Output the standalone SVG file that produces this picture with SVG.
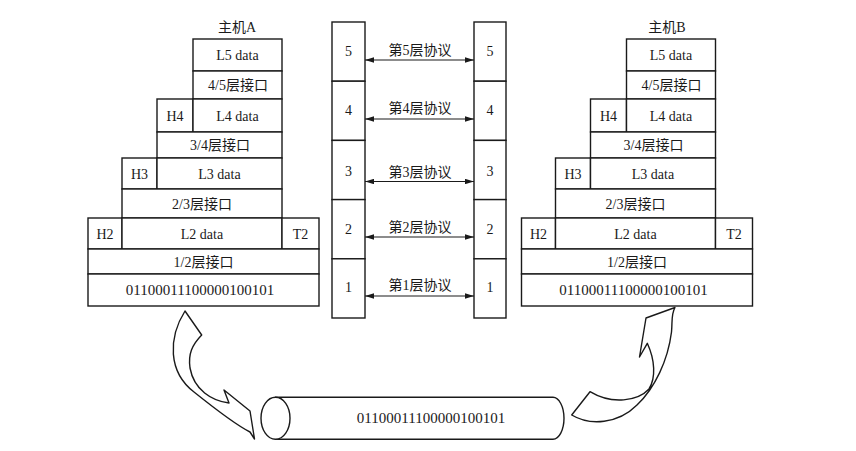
<svg xmlns="http://www.w3.org/2000/svg" width="856" height="451" viewBox="0 0 856 451">
<defs>
<style>
.box{fill:#fff;stroke:#1a1a1a;stroke-width:1.4}
.t{font-family:"Liberation Serif","Noto Sans CJK SC",serif;font-size:14px;text-anchor:middle;fill:#1a1a1a}
.bits{font-size:15px}
.ln{fill:none;stroke:#1a1a1a;stroke-width:1.2}
.blk{fill:#fff;stroke:#1a1a1a;stroke-width:1.4;stroke-linejoin:round}
</style>
<marker id="ah" viewBox="0 0 10 6" refX="10" refY="3" markerWidth="9" markerHeight="5.4" markerUnits="userSpaceOnUse" orient="auto-start-reverse">
<path d="M0,0 L10,3 L0,6 Z" fill="#1a1a1a"/>
</marker>
</defs>
<rect width="856" height="451" fill="#fff"/>

<g id="hostA">
<text class="t" x="237" y="32">主机A</text>
<g id="A-L5"><rect class="box" x="193" y="39" width="89" height="32"/><text class="t" x="237.5" y="60">L5 data</text></g>
<g id="A-if45"><rect class="box" x="193" y="71" width="89" height="28"/><text class="t" x="238" y="90">4/5层接口</text></g>
<g id="A-H4"><rect class="box" x="157" y="99" width="36" height="33"/><text class="t" x="175" y="120.5">H4</text></g>
<g id="A-L4"><rect class="box" x="193" y="99" width="89" height="33"/><text class="t" x="237.5" y="120.5">L4 data</text></g>
<g id="A-if34"><rect class="box" x="157" y="132" width="125" height="26"/><text class="t" x="220" y="150">3/4层接口</text></g>
<g id="A-H3"><rect class="box" x="122" y="158" width="35" height="31"/><text class="t" x="139.5" y="178.5">H3</text></g>
<g id="A-L3"><rect class="box" x="157" y="158" width="125" height="31"/><text class="t" x="219.5" y="178.5">L3 data</text></g>
<g id="A-if23"><rect class="box" x="122" y="189" width="160" height="29"/><text class="t" x="202" y="208.5">2/3层接口</text></g>
<g id="A-H2"><rect class="box" x="88" y="218" width="34" height="31"/><text class="t" x="105" y="238.5">H2</text></g>
<g id="A-L2"><rect class="box" x="122" y="218" width="160" height="31"/><text class="t" x="202" y="238.5">L2 data</text></g>
<g id="A-T2"><rect class="box" x="282" y="218" width="37" height="31"/><text class="t" x="300.5" y="238.5">T2</text></g>
<g id="A-if12"><rect class="box" x="88" y="249" width="231" height="25"/><text class="t" x="203.5" y="266.5">1/2层接口</text></g>
<g id="A-bits"><rect class="box" x="88" y="274" width="231" height="32"/><text class="t bits" x="200" y="295">01100011100000100101</text></g>
</g>

<g id="hostB">
<text class="t" x="667" y="32">主机B</text>
<g transform="translate(433.5,0)">
<g id="B-L5"><rect class="box" x="193" y="39" width="89" height="32"/><text class="t" x="237.5" y="60">L5 data</text></g>
<g id="B-if45"><rect class="box" x="193" y="71" width="89" height="28"/><text class="t" x="238" y="90">4/5层接口</text></g>
<g id="B-H4"><rect class="box" x="157" y="99" width="36" height="33"/><text class="t" x="175" y="120.5">H4</text></g>
<g id="B-L4"><rect class="box" x="193" y="99" width="89" height="33"/><text class="t" x="237.5" y="120.5">L4 data</text></g>
<g id="B-if34"><rect class="box" x="157" y="132" width="125" height="26"/><text class="t" x="220" y="150">3/4层接口</text></g>
<g id="B-H3"><rect class="box" x="122" y="158" width="35" height="31"/><text class="t" x="139.5" y="178.5">H3</text></g>
<g id="B-L3"><rect class="box" x="157" y="158" width="125" height="31"/><text class="t" x="219.5" y="178.5">L3 data</text></g>
<g id="B-if23"><rect class="box" x="122" y="189" width="160" height="29"/><text class="t" x="202" y="208.5">2/3层接口</text></g>
<g id="B-H2"><rect class="box" x="88" y="218" width="34" height="31"/><text class="t" x="105" y="238.5">H2</text></g>
<g id="B-L2"><rect class="box" x="122" y="218" width="160" height="31"/><text class="t" x="202" y="238.5">L2 data</text></g>
<g id="B-T2"><rect class="box" x="282" y="218" width="37" height="31"/><text class="t" x="300.5" y="238.5">T2</text></g>
<g id="B-if12"><rect class="box" x="88" y="249" width="231" height="25"/><text class="t" x="203.5" y="266.5">1/2层接口</text></g>
<g id="B-bits"><rect class="box" x="88" y="274" width="231" height="32"/><text class="t bits" x="200" y="295">01100011100000100101</text></g>
</g>
</g>

<g id="layersA">
<g id="LA5"><rect class="box" x="332" y="22" width="33" height="59.2"/><text class="t" x="348.5" y="56">5</text></g>
<g id="LA4"><rect class="box" x="332" y="81.2" width="33" height="59.2"/><text class="t" x="348.5" y="115">4</text></g>
<g id="LA3"><rect class="box" x="332" y="140.4" width="33" height="59.2"/><text class="t" x="348.5" y="176">3</text></g>
<g id="LA2"><rect class="box" x="332" y="199.6" width="33" height="59.2"/><text class="t" x="348.5" y="234">2</text></g>
<g id="LA1"><rect class="box" x="332" y="258.8" width="33" height="59.2"/><text class="t" x="348.5" y="292">1</text></g>
</g>
<g id="layersB">
<g id="LB5"><rect class="box" x="474" y="22" width="32" height="59.2"/><text class="t" x="490" y="56">5</text></g>
<g id="LB4"><rect class="box" x="474" y="81.2" width="32" height="59.2"/><text class="t" x="490" y="115">4</text></g>
<g id="LB3"><rect class="box" x="474" y="140.4" width="32" height="59.2"/><text class="t" x="490" y="176">3</text></g>
<g id="LB2"><rect class="box" x="474" y="199.6" width="32" height="59.2"/><text class="t" x="490" y="234">2</text></g>
<g id="LB1"><rect class="box" x="474" y="258.8" width="32" height="59.2"/><text class="t" x="490" y="292">1</text></g>
</g>

<g id="cable">
<path class="blk" d="M275.5,397.3 L553,397.3 A11,21 0 0 1 553,439.3 L275.5,439.3 Z"/>
<ellipse class="blk" cx="275.5" cy="418.3" rx="14.5" ry="21"/>
<text class="t bits" x="431" y="423">01100011100000100101</text>
</g>

<g id="connectors">
<line class="ln" x1="365" y1="60" x2="474" y2="60" marker-start="url(#ah)" marker-end="url(#ah)"/>
<line class="ln" x1="365" y1="119" x2="474" y2="119" marker-start="url(#ah)" marker-end="url(#ah)"/>
<line class="ln" x1="365" y1="181.5" x2="474" y2="181.5" marker-start="url(#ah)" marker-end="url(#ah)"/>
<line class="ln" x1="365" y1="237" x2="474" y2="237" marker-start="url(#ah)" marker-end="url(#ah)"/>
<line class="ln" x1="365" y1="296" x2="474" y2="296" marker-start="url(#ah)" marker-end="url(#ah)"/>
<text class="t" x="420" y="55">第5层协议</text>
<text class="t" x="420" y="113">第4层协议</text>
<text class="t" x="420" y="176.5">第3层协议</text>
<text class="t" x="420" y="232">第2层协议</text>
<text class="t" x="420" y="290">第1层协议</text>
<path id="sendArrow" class="blk" fill-opacity="0" d="M185,311 C168,338 168,372 194,392 C214,408 234,424 250,432 L254.5,439 L250,411 L224,390 L229,403 C212,401 194,390 190,368 C188,354 192,345 201.7,335 Z"/>
<path id="recvArrow" class="blk" fill-opacity="0" d="M675,307.5 L646,318 L639.5,357 L647.3,343.3 C655,360 656,378 649,389 C638,401 612,405 590,391.7 L571.7,415 C590,426 618,424 637,405 C655,388 668,360 671.5,332 C672.5,322 671,314 675,307.5 Z"/>
</g>
</svg>
